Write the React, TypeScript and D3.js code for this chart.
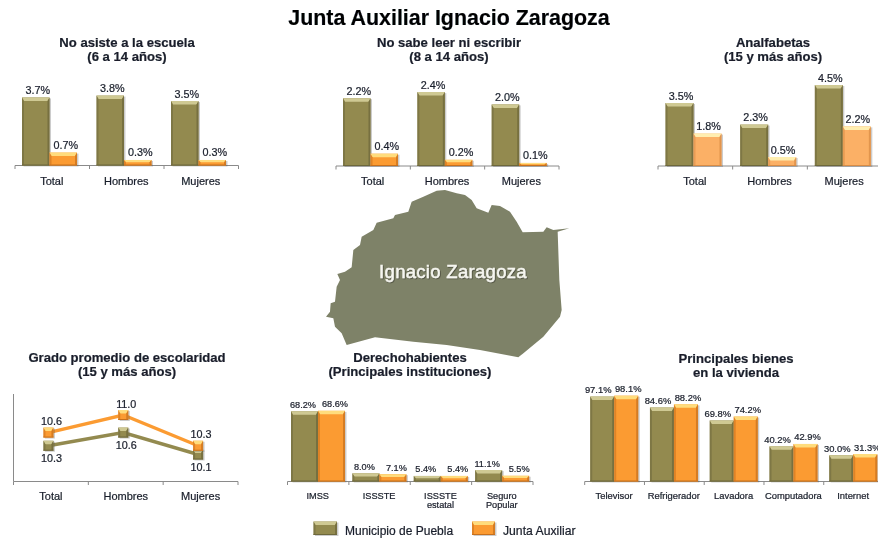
import React from "react";
import * as d3 from "d3";

const mainTitle = "Junta Auxiliar Ignacio Zaragoza";
const seriesNames = ["Municipio de Puebla", "Junta Auxiliar"];
const sexCats = ["Total", "Hombres", "Mujeres"];

const noAsisteMun = [3.7, 3.8, 3.5];
const noAsisteJunta = [0.7, 0.3, 0.3];
const noSabeMun = [2.2, 2.4, 2.0];
const noSabeJunta = [0.4, 0.2, 0.1];
const analfaMun = [3.5, 2.3, 4.5];
const analfaJunta = [1.8, 0.5, 2.2];
const gradoMun = [10.3, 10.6, 10.1];
const gradoJunta = [10.6, 11.0, 10.3];
const derechoCats = [["IMSS"], ["ISSSTE"], ["ISSSTE", "estatal"], ["Seguro", "Popular"]];
const derechoMun = [68.2, 8.0, 5.4, 11.1];
const derechoJunta = [68.6, 7.1, 5.4, 5.5];
const bienesCats = [["Televisor"], ["Refrigerador"], ["Lavadora"], ["Computadora"], ["Internet"]];
const bienesMun = [97.1, 84.6, 69.8, 40.2, 30.0];
const bienesJunta = [98.1, 88.2, 74.2, 42.9, 31.3];

// outline of the municipality
const mapOutline: [number, number][] = [
  [470,32],[495,30],[530,40],[555,45],[575,60],[590,85],[625,98],[635,75],[660,78],[690,95],[710,125],[728,157],
  [790,155],[800,142],[820,150],[868,145],[833,155],[838,300],[845,390],[840,410],[790,470],[715,532],[600,510],
  [500,495],[400,485],[285,472],[200,495],[185,460],[165,440],[160,415],[138,410],[150,395],[152,370],[165,365],
  [170,320],[180,300],[172,282],[195,275],[215,262],[220,210],[240,195],[245,170],[280,150],[290,128],[340,115],
  [345,105],[385,95],[395,65],[430,50],
];

const FONT = "'Liberation Sans', Arial, sans-serif";
const INK = "#1a1f2b";
const OLIVE = { base: "#938a50", top: "#cfc993", edge: "#6d673a" };
const ORANGE = { base: "#fb9b32", top: "#ffdc7c", edge: "#c8701d" };
const PALE = { base: "#fbb066", top: "#ffeeb0", edge: "#d98c45" };

type Pal = typeof OLIVE;

function Bevel({ x, y, w, h, pal }: { x: number; y: number; w: number; h: number; pal: Pal }) {
  const t = Math.min(3.5, h * 0.4);
  const s = 2;
  return (
    <g>
      <rect x={x + 1.5} y={y + 1} width={w} height={h} fill="#555" opacity={0.3} />
      <rect x={x} y={y} width={w} height={h} fill={pal.base} />
      <path d={`M${x},${y}h${w}l-${s},${t}h-${w - 2 * s}z`} fill={pal.top} />
      <path d={`M${x},${y}l${s},${t}v${h - t - 1}l-${s},1z`} fill={pal.edge} opacity={0.55} />
      <path d={`M${x + w},${y}l-${s},${t}v${h - t - 1}l${s},1z`} fill={pal.edge} opacity={0.75} />
      <rect x={x} y={y + h - 1} width={w} height={1} fill={pal.edge} />
    </g>
  );
}

function Title({ lines, cx, y, size = 13.1 }: { lines: string[]; cx: number; y: number; size?: number }) {
  return (
    <g>
      {lines.map((l, i) => (
        <text key={i} x={cx} y={y + i * 14} textAnchor="middle" fontSize={size} fontWeight="bold" fill={INK}>{l}</text>
      ))}
    </g>
  );
}

function Axis({ scale, base }: { scale: d3.ScaleBand<string>; base: number }) {
  const ticks = [...scale.domain().map((d) => scale(d) as number), scale.range()[1]];
  return (
    <g stroke="#8a8a8a" strokeWidth={1}>
      <line x1={scale.range()[0]} x2={scale.range()[1]} y1={base} y2={base} />
      {ticks.map((t, i) => <line key={i} x1={t} x2={t} y1={base} y2={base + 3.5} />)}
    </g>
  );
}

type BarProps = {
  cats: string[][]; a: number[]; b: number[]; x0: number; x1: number; base: number; perUnit: number;
  inset: number; w: number; labelDx: [number, number]; valueSize: number; catSize: number; catY: number; palB?: Pal;
};

function BarChart({ cats, a, b, x0, x1, base, perUnit, inset, w, labelDx, valueSize, catSize, catY, palB = ORANGE }: BarProps) {
  const keys = cats.map((c) => c.join(" "));
  const xs = d3.scaleBand<string>().domain(keys).range([x0, x1]);
  const maxV = d3.max([...a, ...b]) as number;
  const y = d3.scaleLinear().domain([0, maxV]).range([base, base - perUnit * maxV]);
  const fmt = d3.format(".1f");
  return (
    <g>
      <Axis scale={xs} base={base} />
      {keys.map((k, i) => {
        const left = (xs(k) as number) + inset;
        return (
          <g key={k}>
            <Bevel x={left} y={y(a[i])} w={w} h={base - y(a[i])} pal={OLIVE} />
            <Bevel x={left + w} y={y(b[i])} w={w} h={base - y(b[i])} pal={palB} />
            <text x={left + w / 2 + labelDx[0]} y={y(a[i]) - 3.5} textAnchor="middle" fontSize={valueSize} fill={INK}>{fmt(a[i])}%</text>
            <text x={left + w * 1.5 + labelDx[1]} y={y(b[i]) - 3.5} textAnchor="middle" fontSize={valueSize} fill={INK}>{fmt(b[i])}%</text>
            {cats[i].map((t, j) => (
              <text key={j} x={(xs(k) as number) + xs.bandwidth() / 2 - 0.5} y={catY + j * 8.5} textAnchor="middle" fontSize={catSize} fill={INK}>{t}</text>
            ))}
          </g>
        );
      })}
    </g>
  );
}

function LineChart() {
  const base = 481.5;
  const xs = d3.scaleBand<string>().domain(sexCats).range([13.5, 238]);
  const y = d3.scaleLinear().domain([10.1, 11]).range([454.5, 415]);
  const px = (i: number) => (xs(sexCats[i]) as number) + xs.bandwidth() / 2 - 2.5;
  const line = d3.line<number>().x((_, i) => px(i)).y((d) => y(d));
  const fmt = d3.format(".1f");
  const series = [
    { v: gradoMun, pal: OLIVE, dy: 16.5 },
    { v: gradoJunta, pal: ORANGE, dy: -7.5 },
  ];
  return (
    <g>
      <line x1={13.5} x2={13.5} y1={394} y2={base} stroke="#8a8a8a" />
      <Axis scale={xs} base={base} />
      {series.map((s, k) => (
        <g key={k}>
          <path d={line(s.v) as string} fill="none" stroke={s.pal.base} strokeWidth={3.4} />
          {s.v.map((d, i) => (
            <g key={i}>
              <Bevel x={px(i) - 5} y={y(d) - 5} w={10} h={10} pal={s.pal} />
              <text x={px(i) + 3} y={y(d) + s.dy} textAnchor="middle" fontSize={10.8} fill={INK}>{fmt(d)}</text>
            </g>
          ))}
        </g>
      ))}
      {sexCats.map((c) => (
        <text key={c} x={(xs(c) as number) + xs.bandwidth() / 2} y={500} textAnchor="middle" fontSize={11} fill={INK}>{c}</text>
      ))}
    </g>
  );
}

function MapShape() {
  const sx = d3.scaleLinear().domain([0, 3]).range([280, 281]);
  const sy = d3.scaleLinear().domain([0, 3]).range([180, 181]);
  const path = d3.line<[number, number]>().x((d) => sx(d[0])).y((d) => sy(d[1])).curve(d3.curveLinearClosed);
  return (
    <g>
      <path d={path(mapOutline) as string} fill="#7e8268" />
      <text
        x={453}
        y={278}
        textAnchor="middle"
        fontSize={18.5}
        letterSpacing={0.3}
        filter="url(#mapShadow)"
        style={{ fill: "#f6f6f0", stroke: "#f6f6f0", strokeWidth: 0.45 }}
      >
        Ignacio Zaragoza
      </text>
    </g>
  );
}

export default function App() {
  const cat1 = sexCats.map((c) => [c]);
  return (
    <svg
      width={878}
      height={538}
      viewBox="0 0 878 538"
      style={{ position: "fixed", left: 0, top: 0, background: "#fff", fontFamily: FONT }}
    >
      <defs>
        <filter id="soft" x="-2%" y="-2%" width="104%" height="104%">
          <feGaussianBlur stdDeviation="0.35" />
        </filter>
        <filter id="mapShadow" x="-5%" y="-20%" width="110%" height="140%">
          <feDropShadow dx="0.8" dy="0.8" stdDeviation="0.5" floodColor="#33352a" floodOpacity="0.7" />
        </filter>
        <style>{`text{stroke:#1a1f2b;stroke-width:.22px}`}</style>
      </defs>
      <g filter="url(#soft)">
        <text x={449} y={25} textAnchor="middle" fontSize={21.4} fontWeight="bold" fill="#000">{mainTitle}</text>

        <Title lines={["No asiste a la escuela", "(6 a 14 años)"]} cx={127} y={47} />
        <Title lines={["No sabe leer ni escribir", "(8 a 14 años)"]} cx={449} y={47} />
        <Title lines={["Analfabetas", "(15 y más años)"]} cx={773} y={47} />
        <Title lines={["Grado promedio de escolaridad", "(15 y más años)"]} cx={127} y={362} />
        <Title lines={["Derechohabientes", "(Principales instituciones)"]} cx={410} y={362} />
        <Title lines={["Principales bienes", "en la vivienda"]} cx={736} y={362.5} />

        <BarChart cats={cat1} a={noAsisteMun} b={noAsisteJunta} x0={15} x1={238.5} base={165.5} perUnit={18.4} inset={7} w={27.5} labelDx={[2, 2.5]} valueSize={10.8} catSize={11} catY={185} />
        <BarChart cats={cat1} a={noSabeMun} b={noSabeJunta} x0={336} x1={559} base={166} perUnit={30.8} inset={7} w={27.5} labelDx={[2, 2.5]} valueSize={10.8} catSize={11} catY={185} />
        <BarChart cats={cat1} a={analfaMun} b={analfaJunta} x0={658} x1={882} base={166} perUnit={18} inset={7.5} w={28} labelDx={[1.5, 1]} valueSize={10.8} catSize={11} catY={185} palB={PALE} />
        <BarChart cats={derechoCats} a={derechoMun} b={derechoJunta} x0={287.5} x1={533} base={481.5} perUnit={1.03} inset={3.5} w={27} labelDx={[-1.5, 3.5]} valueSize={9.2} catSize={9.2} catY={499} />
        <BarChart cats={bienesCats} a={bienesMun} b={bienesJunta} x0={584.7} x1={883.5} base={481.5} perUnit={0.875} inset={5.5} w={24} labelDx={[-4, 2]} valueSize={9.4} catSize={9.4} catY={499} />

        <LineChart />
        <MapShape />

        <Bevel x={313.5} y={521.5} w={23.5} h={13.5} pal={OLIVE} />
        <text x={345} y={535} fontSize={12} fill={INK}>{seriesNames[0]}</text>
        <Bevel x={472} y={521.5} w={23} h={13.5} pal={ORANGE} />
        <text x={503} y={535} fontSize={12.2} fill={INK}>{seriesNames[1]}</text>
      </g>
    </svg>
  );
}
